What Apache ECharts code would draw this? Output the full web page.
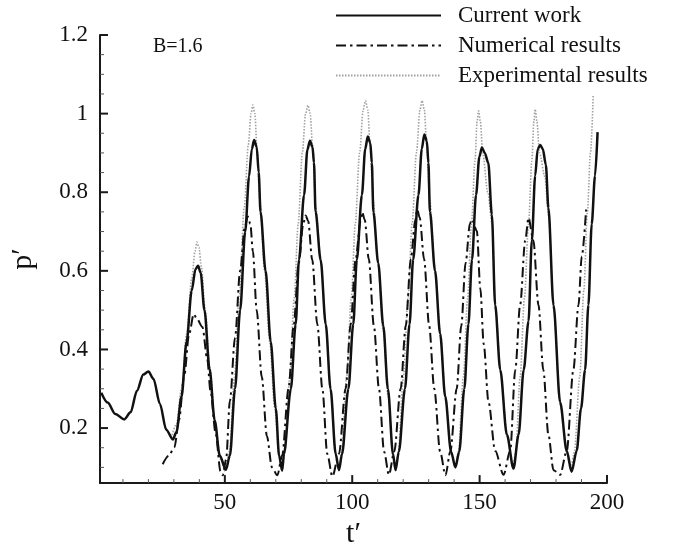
<!DOCTYPE html>
<html>
<head>
<meta charset="utf-8">
<script src="https://cdn.jsdelivr.net/npm/echarts@6/dist/echarts.min.js"></script>
<style>
html,body{margin:0;padding:0;background:#fff;}
#chart{width:673px;height:554px;}
</style>
</head>
<body>
<div id="chart"></div>
<script>
// ---- data ----
var seriesNames = ['Current work', 'Numerical results', 'Experimental results'];

var curT = [1.5,4,7,10.5,13,15.5,18,20,22,24.5,27,29.6,
  31,33,35,37,38.5,39.5,40.5,42,44,46,48,50.4,
  52,54,56,58,59.5,60.6,61.5,62.5,63.3,64,66,68,70,71.3,72.5,
  73.2,75.9,77.8,79.1,81.1,82.4,83.4,84.4,85,85.6,87.6,89.6,91.5,93.5,94.8,
  96,98.5,100.4,101.8,103.8,105.1,106.1,107.1,107.7,108.3,110.2,112.2,114,116,117,
  118.3,120.7,122.5,123.9,126,127.3,128.3,129.3,129.9,130.5,132.5,134.5,136.5,138.8,140.5,
  142,144,145.6,147,148.6,149.9,150.9,152,153.4,154.8,156.1,158.1,160.7,163.3,
  165.3,167.3,169.2,170.5,171.8,172.8,173.8,174.8,176,177,179,181.6,184.2,186.1,
  188.1,189.8,191.4,192.7,194,195.3,196.3];
var curP = [0.29,0.265,0.236,0.222,0.24,0.295,0.336,0.344,0.325,0.262,0.196,0.171,
  0.19,0.28,0.42,0.55,0.605,0.613,0.595,0.5,0.35,0.22,0.13,0.094,
  0.13,0.3,0.5,0.7,0.84,0.91,0.933,0.915,0.85,0.75,0.6,0.42,0.25,0.13,0.092,
  0.134,0.299,0.464,0.628,0.793,0.908,0.931,0.915,0.875,0.751,0.628,0.464,0.299,0.134,0.093,
  0.134,0.3,0.464,0.628,0.793,0.91,0.942,0.925,0.875,0.75,0.62,0.46,0.3,0.134,0.093,
  0.14,0.3,0.464,0.628,0.793,0.91,0.947,0.93,0.875,0.75,0.6,0.44,0.28,0.14,0.1,
  0.14,0.3,0.464,0.628,0.793,0.89,0.914,0.9,0.875,0.743,0.513,0.348,0.183,0.097,
  0.183,0.348,0.472,0.677,0.842,0.91,0.92,0.91,0.87,0.76,0.513,0.266,0.142,0.089,
  0.142,0.25,0.348,0.513,0.719,0.842,0.953];

var numT = [25.6,28,30.2,32,34,36,37.8,39,41.2,43.1,44.4,46.4,48.3,49.2,
  50.5,52,54,56,57.8,59,60,61,62.5,64.5,66.5,68.5,70.6,
  72.5,75,77,79,80.8,81.7,82.7,84.3,86.3,88.3,90.2,92.2,
  94.8,97.4,99.4,101.3,103.3,103.9,104.9,106.5,108.5,110.5,112.5,114.4,
  116.5,119,121,123,124.8,125.5,126.5,128.2,130.2,132.2,134.5,136.6,
  138.5,141,142.8,144.5,146.2,147,148.9,150.3,151.6,153.5,156.1,159.4,
  162,164,165.9,167.9,169.2,171.1,173.1,175,177,179,181.6,
  184.2,186.8,188.8,190.1,191.8];
var numP = [0.108,0.13,0.151,0.22,0.33,0.44,0.49,0.478,0.457,0.375,0.293,0.186,0.09,0.08,
  0.12,0.27,0.43,0.6,0.71,0.738,0.72,0.65,0.5,0.33,0.18,0.1,0.08,
  0.13,0.3,0.46,0.62,0.72,0.741,0.727,0.628,0.464,0.299,0.134,0.077,
  0.134,0.3,0.464,0.628,0.727,0.75,0.73,0.63,0.46,0.3,0.14,0.081,
  0.14,0.3,0.46,0.63,0.73,0.756,0.735,0.63,0.46,0.3,0.14,0.08,
  0.14,0.3,0.46,0.62,0.72,0.731,0.702,0.554,0.414,0.266,0.142,0.081,
  0.142,0.348,0.513,0.677,0.735,0.677,0.513,0.348,0.183,0.093,0.081,
  0.142,0.348,0.513,0.637,0.756];

var expT = [29,31,33,35,37,38.3,39,39.8,40.8,42.3,44.2,46.2,48.3,50.2,
  51.8,53.8,55.7,57.6,59.2,60.3,61,61.8,62.6,63.7,65.6,67.6,69.6,71.2,72.5,
  73.6,75.5,77.2,78.8,80.4,81.7,82.6,83.5,84.4,85.7,87.7,89.7,91.6,93.5,94.8,
  95.9,97.8,99.6,101.2,102.9,104.3,105.2,106.1,107,108.2,110.1,112.1,114.1,116,117,
  118.1,120.1,121.9,123.5,125.2,126.6,127.4,128.3,129.2,130.4,132.6,134.6,136.6,138.8,140.4,
  141.7,143.6,145.3,146.8,148.2,149,149.6,150.3,151.2,153.2,154.9,156.3,158.3,160.8,163,
  164.2,165.9,167.6,169.2,170.5,171.3,171.8,172.5,173.5,175.6,177.1,179.1,181.6,184.1,185.8,
  187.2,189.3,190.9,192.3,193.5,194.6];
var expP = [0.175,0.21,0.3,0.44,0.58,0.65,0.673,0.66,0.61,0.5,0.35,0.21,0.12,0.09,
  0.14,0.33,0.54,0.76,0.92,1.0,1.022,1.0,0.91,0.78,0.6,0.42,0.25,0.13,0.09,
  0.14,0.33,0.53,0.72,0.9,1.0,1.021,1.0,0.92,0.76,0.62,0.46,0.3,0.14,0.095,
  0.14,0.33,0.53,0.72,0.9,1.01,1.033,1.01,0.92,0.78,0.62,0.45,0.28,0.13,0.092,
  0.14,0.33,0.53,0.72,0.9,1.01,1.033,1.01,0.92,0.78,0.6,0.44,0.28,0.14,0.1,
  0.14,0.33,0.53,0.72,0.88,0.98,1.007,0.98,0.9,0.8,0.72,0.5,0.34,0.18,0.1,
  0.14,0.33,0.53,0.72,0.88,0.98,1.011,0.98,0.9,0.84,0.74,0.5,0.26,0.14,0.095,
  0.14,0.33,0.55,0.75,0.9,1.048];

var xTickLabels = [50, 100, 150, 200];
var xMinorTicks = [10,20,30,40,60,70,80,90,110,120,130,140,160,170,180,190];
var yTickLabels = [0.2, 0.4, 0.6, 0.8, 1, 1.2];
var yMinorTicks = [0.1,0.15,0.25,0.3,0.35,0.45,0.5,0.55,0.65,0.7,0.75,0.85,0.9,0.95,1.05,1.1,1.15];

var X_MIN = 1, X_MAX = 200, Y_MIN = 0.06, Y_MAX = 1.2;

function zip(a, b) { return a.map(function (v, i) { return [v, b[i]]; }); }

var FONT = 'Liberation Serif';
var AX = '#1a1a1a';

// inward tick marks drawn through the axes' own scales
function tickSeries(values, dir, len, width, color) {
  return {
    type: 'custom', coordinateSystem: 'cartesian2d', silent: true, z: 10, clip: false,
    encode: {x: 0, y: 1},
    data: values.map(function (v) { return dir === 'x' ? [v, Y_MIN] : [X_MIN, v]; }),
    renderItem: function (params, api) {
      var p = api.coord([api.value(0), api.value(1)]);
      var shape = dir === 'x'
        ? {x1: p[0], y1: p[1], x2: p[0], y2: p[1] - len}
        : {x1: p[0], y1: p[1], x2: p[0] + len, y2: p[1]};
      return {type: 'line', shape: shape, style: {stroke: color, lineWidth: width, fill: null}};
    }
  };
}

var chart = echarts.init(document.getElementById('chart'), null, {renderer: 'canvas'});
chart.setOption({
  backgroundColor: '#ffffff',
  animation: false,
  title: {
    text: 'B=1.6', left: 148, top: 32,
    textStyle: {fontFamily: FONT, fontSize: 20, fontWeight: 'normal', color: '#111'}
  },
  legend: {
    orient: 'vertical', left: 335, top: 4, padding: 0,
    itemWidth: 105, itemHeight: 14, itemGap: 7,
    data: seriesNames,
    itemStyle: {opacity: 0},
    textStyle: {fontFamily: FONT, fontSize: 23, color: '#111', lineHeight: 22, padding: [0, 0, 0, 12]}
  },
  grid: {left: 100, right: 66, top: 35, bottom: 56},
  xAxis: {
    type: 'value', min: X_MIN, max: X_MAX,
    name: 't\u2032', nameLocation: 'middle', nameGap: 24,
    nameTextStyle: {fontFamily: FONT, fontSize: 30, color: '#111'},
    axisLine: {show: true, onZero: false, lineStyle: {color: AX, width: 2}},
    axisTick: {show: false},
    axisLabel: {customValues: xTickLabels, fontFamily: FONT, fontSize: 23, color: '#111', margin: 8},
    splitLine: {show: false}
  },
  yAxis: {
    type: 'value', min: Y_MIN, max: Y_MAX,
    name: 'p\u2032', nameLocation: 'middle', nameGap: 62, nameRotate: 90,
    nameTextStyle: {fontFamily: FONT, fontSize: 30, color: '#111'},
    axisLine: {show: true, onZero: false, lineStyle: {color: AX, width: 2}},
    axisTick: {show: false},
    axisLabel: {customValues: yTickLabels, fontFamily: FONT, fontSize: 23, color: '#111', margin: 12,
      formatter: function (v) { return String(Math.round(v * 10) / 10); }},
    splitLine: {show: false}
  },
  series: [{
    name: seriesNames[2], type: 'line', data: zip(expT, expP), z: 1,
    symbol: 'none', smooth: 0.3, smoothMonotone: 'x',
    lineStyle: {color: '#a0a0a0', width: 1.6, type: [1.5, 1.5]},
    itemStyle: {color: '#a0a0a0'}
  }, {
    name: seriesNames[1], type: 'line', data: zip(numT, numP), z: 2,
    symbol: 'none', smooth: 0.3, smoothMonotone: 'x',
    lineStyle: {color: '#111', width: 2, type: [10, 4, 2.5, 4]},
    itemStyle: {color: '#111'}
  }, {
    name: seriesNames[0], type: 'line', data: zip(curT, curP), z: 3,
    symbol: 'none', smooth: 0.3, smoothMonotone: 'x',
    lineStyle: {color: '#111', width: 2.5},
    itemStyle: {color: '#111'}
  },
  tickSeries(xTickLabels, 'x', 8, 2, AX),
  tickSeries(xMinorTicks, 'x', 4, 1, '#555'),
  tickSeries(yTickLabels, 'y', 8, 2, AX),
  tickSeries(yMinorTicks, 'y', 4, 1, '#555')
  ]
});
</script>
</body>
</html>
